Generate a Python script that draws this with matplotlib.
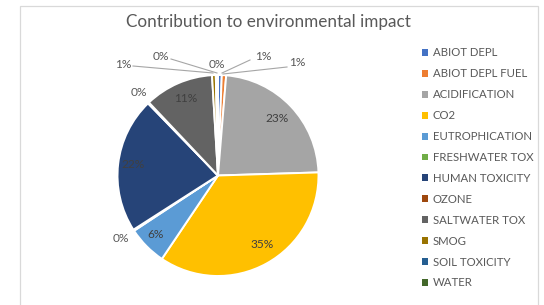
import matplotlib
matplotlib.use("Agg")
import matplotlib.pyplot as plt
from matplotlib.patches import Rectangle

plt.rcParams['font.family'] = ['Lato', 'DejaVu Sans']

# --- data ---
categories = ["ABIOT DEPL", "ABIOT DEPL FUEL", "ACIDIFICATION", "CO2", "EUTROPHICATION",
              "FRESHWATER TOX", "HUMAN TOXICITY", "OZONE", "SALTWATER TOX", "SMOG",
              "SOIL TOXICITY", "WATER"]
shares = [0.6, 0.7, 23.2, 34.9, 6.3, 0.2, 21.8, 0.2, 11.1, 0.6, 0.2, 0.15]
colors = ["#4472C4", "#ED7D31", "#A5A5A5", "#FFC000", "#5B9BD5", "#70AD47",
          "#264478", "#9E480E", "#636363", "#997300", "#255E91", "#43682B"]

# label positions in pixels (x, y from top); None -> no leader line
label_pos = [(263, 57), (297, 63), (277, 119), (262, 244), (156, 235), (121, 239),
             (133, 165), (139, 92), (186, 98), (123, 65), (161, 56), (217, 64)]
leader = [((250, 60), (222, 73)), ((287, 67), (223, 74)), None, None, None, None,
          None, None, None, ((133, 66), (213, 73)), ((171, 59), (217, 73)), None]

W, H = 544, 305
fig = plt.figure(figsize=(W / 100, H / 100), dpi=100)
ax = fig.add_axes([0, 0, 1, 1])

wedges, _ = ax.pie(shares, colors=colors, startangle=90, counterclock=False,
                   center=(218, H - 175.5), radius=100.5,
                   wedgeprops=dict(edgecolor="white", linewidth=1.4))

ax.set_xlim(0, W)
ax.set_ylim(0, H)
ax.set_aspect("auto")
ax.axis("off")

total = sum(shares)
for i, v in enumerate(shares):
    x, y = label_pos[i]
    big = v >= 5
    ax.text(x, H - y, "%.0f%%" % (v / total * 100), ha="center", va="center",
            fontsize=8.6, color="#404040" if big else "#595959")
    if leader[i] is not None:
        (x0, y0), (x1, y1) = leader[i]
        ax.plot([x0, x1], [H - y0, H - y1], color="#A6A6A6", lw=0.8)

# chart border
ax.add_patch(Rectangle((20, -5), 518, H - 6 + 5, fill=False, edgecolor="#D9D9D9", lw=0.9))

ax.text(268, H - 22, "Contribution to environmental impact", ha="center", va="center",
        fontsize=12.3, color="#595959")

leg = ax.legend(wedges, categories, loc="upper left", bbox_to_anchor=(422, H - 47.5),
                bbox_transform=ax.transData, frameon=False, borderpad=0, borderaxespad=0,
                handlelength=0.55, handleheight=0.55, handletextpad=0.38,
                labelspacing=0.87, fontsize=8.2)
for t in leg.get_texts():
    t.set_color("#595959")
for h in leg.legend_handles:
    h.set_edgecolor("none")

fig.savefig("out.png", dpi=100)
